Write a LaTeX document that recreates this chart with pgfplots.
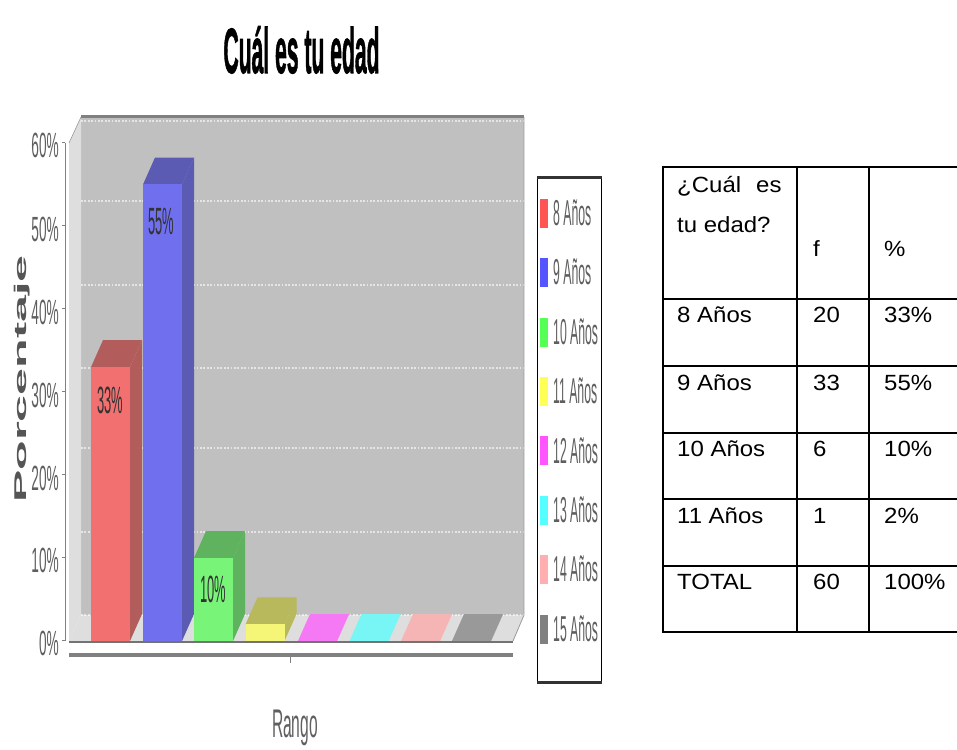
\documentclass[border=0pt]{standalone}
\usepackage{pgfplots}
\usepackage{graphicx}
\usepackage{fontspec}
\setmainfont{Liberation Sans}
\newfontfamily\titlefont[BoldFeatures={FakeBold=1.6}]{Liberation Sans}
\pgfplotsset{compat=1.18}

\definecolor{wallback}{RGB}{192,192,192}
\definecolor{wallside}{RGB}{222,222,222}
\definecolor{axisgray}{RGB}{128,128,128}
\definecolor{labelgray}{RGB}{95,95,95}
\definecolor{redF}{RGB}{242,112,112}
\definecolor{redS}{RGB}{179,92,92}
\definecolor{blueF}{RGB}{112,112,238}
\definecolor{blueS}{RGB}{91,91,179}
\definecolor{greenF}{RGB}{120,245,120}
\definecolor{greenS}{RGB}{95,179,95}
\definecolor{yellowF}{RGB}{245,245,120}
\definecolor{yellowS}{RGB}{184,184,92}
\definecolor{magentaF}{RGB}{245,120,245}
\definecolor{cyanF}{RGB}{120,245,245}
\definecolor{pinkF}{RGB}{245,181,181}
\definecolor{grayF}{RGB}{153,153,153}

% x left edge, value, front, side, top
\newcommand{\threedbar}[5]{%
  \pgfmathsetmacro\xb{#1+39}%
  \pgfmathsetmacro\xc{#1+51}%
  \pgfmathsetmacro\xd{#1+12}%
  \pgfmathsetmacro\vb{#2+3.25}%
  \addplot[forget plot,draw=none,fill=#5] coordinates {(#1,#2) (\xb,#2) (\xc,\vb) (\xd,\vb)} -- cycle;
  \addplot[forget plot,draw=none,fill=#4] coordinates {(\xb,0) (\xc,3.25) (\xc,\vb) (\xb,#2)} -- cycle;
  \addplot[forget plot,draw=none,fill=#3] coordinates {(#1,0) (\xb,0) (\xb,#2) (#1,#2)} -- cycle;
}
\newcommand{\gridat}[1]{%
  \addplot[forget plot,white,opacity=0.6,line width=1.4pt,dash pattern=on 1.8pt off 1.6pt] coordinates {(81,#1) (524,#1)};
}
\newcommand{\tchart}[3]{\node[anchor=east,text=labelgray,inner sep=0pt] at (#1,#2) {\fontsize{35}{37}\selectfont\scalebox{0.39}[1]{#3}};}
\newcommand{\tbar}[3]{\node[anchor=center,text=black!80,inner sep=0pt] at (#1,#2) {\fontsize{38}{40}\selectfont\scalebox{0.34}[1]{#3}};}
\newcommand{\tcell}[3]{\node[anchor=base west,inner sep=0pt] at (#1,#2) {\fontsize{22}{24}\selectfont\scalebox{1.09}[1]{#3}};}
\newcommand{\legtxt}[1]{\hspace*{5pt}\scalebox{0.34}[1]{#1}}

\begin{document}
\begin{tikzpicture}
\useasboundingbox (0,0) rectangle (957pt,749pt);
\begin{axis}[
  at={(0,0)},anchor=south west,
  scale only axis,width=957pt,height=749pt,
  xmin=0,xmax=957,
  ymin=-13.012,ymax=77.229,
  hide axis,
  legend style={at={(axis cs:537,53.3)},anchor=north west,draw=none,fill=white,
    inner xsep=3pt,inner ysep=0pt,row sep=30.4pt,
    nodes={inner sep=0pt,anchor=west,text=labelgray},
    font=\fontsize{36}{36}\selectfont},
  legend cell align=left,
  legend image code/.code={\path[#1] (1pt,-14.5pt) rectangle (9pt,14.5pt);},
]
% walls and floor
\addplot[forget plot,draw=none,fill=wallback] coordinates {(81,3.13) (524,3.13) (524,63.13) (81,63.13)} -- cycle;
\addplot[forget plot,draw=none,fill=wallside] coordinates {(69,0) (81,3.13) (81,63.13) (69,60)} -- cycle;
\addplot[forget plot,draw=none,fill=wallside] coordinates {(69,0) (513,0) (524,3.13) (81,3.13)} -- cycle;
\gridat{3.13}
\gridat{13.13}
\gridat{23.25}
\gridat{32.9}
\gridat{42.9}
\gridat{53.0}
\gridat{62.65}
\addplot[forget plot,axisgray,line width=3pt] coordinates {(81,63.2) (524,63.2)};
\addplot[forget plot,axisgray!80,line width=0.6pt] coordinates {(69,60) (81,63.13)};
\addplot[forget plot,axisgray!80,line width=0.8pt] coordinates {(524,63.13) (524,3.13) (513,0)};
% bars
\threedbar{91}{33}{redF}{redS}{redS}
\threedbar{143}{55}{blueF}{blueS}{blueS}
\threedbar{194}{10}{greenF}{greenS}{greenS}
\threedbar{245.5}{2}{yellowF}{yellowS}{yellowS}
\threedbar{298}{0}{magentaF}{magentaF}{magentaF}
\threedbar{349.5}{0}{cyanF}{cyanF}{cyanF}
\threedbar{401}{0}{pinkF}{pinkF}{pinkF}
\threedbar{452}{0}{grayF}{grayF}{grayF}
% axis lines
\addplot[forget plot,axisgray,line width=1pt] coordinates {(65,60) (65,0)};
\addplot[forget plot,axisgray!90!black,line width=2.5pt] coordinates {(69,-0.12) (513,-0.12)};
\addplot[forget plot,axisgray,line width=3.5pt] coordinates {(69,-1.7) (513,-1.7)};
\addplot[forget plot,axisgray,line width=0.6pt] coordinates {(290,-1.7) (290,-2.7)};
\addplot[forget plot,axisgray,line width=1pt] coordinates {(62,0.01) (65,0.01)};
\addplot[forget plot,axisgray,line width=1pt] coordinates {(62,10) (65,10)};
\addplot[forget plot,axisgray,line width=1pt] coordinates {(62,20) (65,20)};
\addplot[forget plot,axisgray,line width=1pt] coordinates {(62,30) (65,30)};
\addplot[forget plot,axisgray,line width=1pt] coordinates {(62,40) (65,40)};
\addplot[forget plot,axisgray,line width=1pt] coordinates {(62,50) (65,50)};
\addplot[forget plot,axisgray,line width=1pt] coordinates {(62,60) (65,60)};
% legend
\addlegendimage{draw=none,fill={rgb,255:red,255;green,85;blue,85}}
\addlegendentry{\legtxt{8 Años}}
\addlegendimage{draw=none,fill={rgb,255:red,85;green,85;blue,255}}
\addlegendentry{\legtxt{9 Años}}
\addlegendimage{draw=none,fill={rgb,255:red,85;green,255;blue,85}}
\addlegendentry{\legtxt{10 Años}}
\addlegendimage{draw=none,fill={rgb,255:red,255;green,255;blue,85}}
\addlegendentry{\legtxt{11 Años}}
\addlegendimage{draw=none,fill={rgb,255:red,255;green,85;blue,255}}
\addlegendentry{\legtxt{12 Años}}
\addlegendimage{draw=none,fill={rgb,255:red,85;green,255;blue,255}}
\addlegendentry{\legtxt{13 Años}}
\addlegendimage{draw=none,fill={rgb,255:red,255;green,175;blue,175}}
\addlegendentry{\legtxt{14 Años}}
\addlegendimage{draw=none,fill={rgb,255:red,128;green,128;blue,128}}
\addlegendentry{\legtxt{15 Años}}
\end{axis}

% pixel frame of the page: x right, y down
\begin{scope}[x=1pt,y=-1pt,yshift=749pt]
\node[inner sep=0pt,anchor=base] at (301.5,73) {\fontsize{64}{66}\titlefont\bfseries\scalebox{0.33}[1]{Cuál es tu edad}};
\node[inner sep=0pt,anchor=base,text=labelgray] at (295,737) {\fontsize{40}{42}\selectfont\scalebox{0.39}[1]{Rango}};
\node[inner sep=0pt,anchor=base,rotate=90,text=labelgray!90!black] at (26,379) {\fontsize{17}{19}\selectfont\bfseries\scalebox{2.85}[1]{Porcentaje}};
\tchart{59}{145}{60\%}
\tchart{59}{229}{50\%}
\tchart{59}{312}{40\%}
\tchart{59}{395}{30\%}
\tchart{59}{478}{20\%}
\tchart{59}{560}{10\%}
\tchart{59}{643}{0\%}
\tbar{110}{400}{33\%}
\tbar{161}{222}{55\%}
\tbar{213}{589}{10\%}
% legend frame
\draw[black,line width=0.8pt] (537.5,178) -- (537.5,682) (601.5,178) -- (601.5,682);
\draw[black!80,line width=3pt] (537,178) -- (602,178) (537,682) -- (602,682);
% table
\draw[black,line width=2pt] (663,167) -- (957,167) (663,299) -- (957,299) (663,366) -- (957,366)
  (663,433) -- (957,433) (663,499) -- (957,499) (663,566) -- (957,566) (663,632) -- (957,632)
  (663,166) -- (663,633) (797,166) -- (797,633) (869,166) -- (869,633);
\tcell{677}{193}{¿Cuál}
\tcell{756}{193}{es}
\tcell{677}{233}{tu edad?}
\tcell{813}{257}{f}
\tcell{884}{257}{\%}
\tcell{677}{323}{8 Años}
\tcell{813}{323}{20}
\tcell{884}{323}{33\%}
\tcell{677}{391}{9 Años}
\tcell{813}{391}{33}
\tcell{884}{391}{55\%}
\tcell{677}{457}{10 Años}
\tcell{813}{457}{6}
\tcell{884}{457}{10\%}
\tcell{677}{524}{11 Años}
\tcell{813}{524}{1}
\tcell{884}{524}{2\%}
\tcell{677}{590}{TOTAL}
\tcell{813}{590}{60}
\tcell{884}{590}{100\%}
\end{scope}
\end{tikzpicture}
\end{document}
